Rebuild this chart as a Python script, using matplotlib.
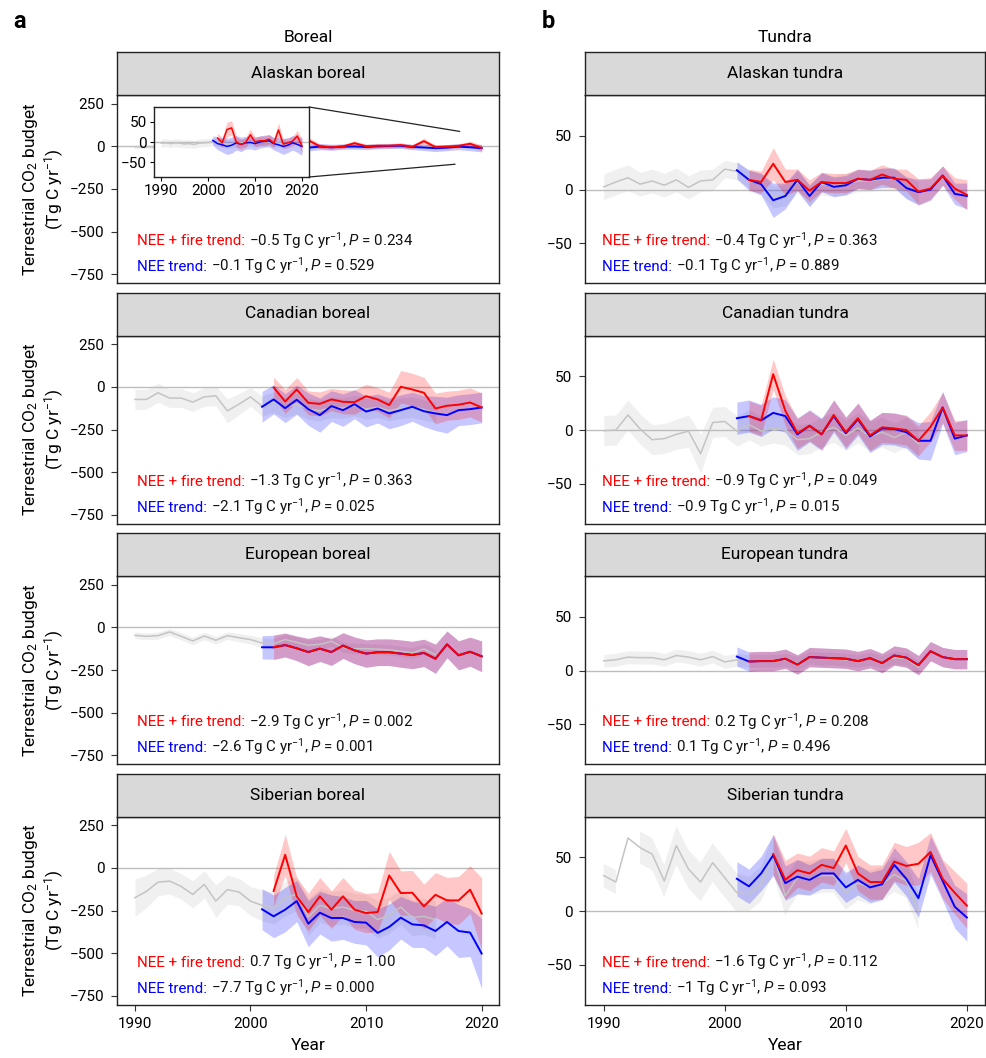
import numpy as np
import matplotlib
matplotlib.use("Agg")
import matplotlib.pyplot as plt
from matplotlib.patches import ConnectionPatch

plt.rcParams['font.family'] = ['Roboto', 'DejaVu Sans']
plt.rcParams['mathtext.fontset'] = 'custom'
plt.rcParams['mathtext.rm'] = 'Roboto'
plt.rcParams['mathtext.it'] = 'Roboto:italic'

# years
prior_years = np.arange(1990, 2017)
nee_years = np.arange(2001, 2021)
fire_years = np.arange(2002, 2021)
fire_years_sib_tundra = np.arange(2004, 2021)

# ---- Alaskan boreal
ak_boreal_prior = [-3, -2, -4, -2, -3, -5, -4, -6, -3, -2, -1, 1, 0, -2, -5, -4, -3, -2, -1, 0, -1, 0, 1, 0, -2, -3, -4]
ak_boreal_prior_err = [10] * 27
ak_boreal_nee = [4, -4, -7, -11, -8, -2, -6, -2, -1, -4, 0, 2, 3, -4, -7, -11, -8, -2, -6, -11]
ak_boreal_nee_err = [12, 15, 18, 20, 20, 18, 18, 16, 16, 16, 15, 15, 15, 16, 18, 20, 18, 18, 20, 22]
ak_boreal_fire = [10, -2, 31, 35, 0, -6, -1, 18, 0, 3, 3, 7, -3, 30, -5, -2, 2, 15, -10]
ak_boreal_fire_err = [12, 12, 18, 18, 14, 12, 12, 14, 12, 12, 12, 12, 12, 18, 12, 12, 12, 14, 18]

# ---- Canadian boreal
ca_boreal_prior = [-74, -74, -35, -66, -66, -90, -59, -53, -141, -102, -59, -113, -90, -120, -100, -130, -140,
                   -120, -125, -110, -130, -120, -140, -125, -120, -135, -150]
ca_boreal_prior_err = [60, 58, 55, 55, 55, 55, 55, 58, 70, 62, 55, 60, 60, 60, 60, 60, 60, 60, 60, 60, 60, 60,
                       60, 60, 60, 60, 60]
ca_boreal_nee = [-117, -74, -125, -76, -131, -166, -113, -137, -102, -145, -127, -156, -137, -117, -143, -156,
                 -166, -137, -131, -121]
ca_boreal_nee_err = [90, 85, 85, 85, 95, 100, 90, 95, 85, 90, 85, 90, 90, 85, 90, 100, 105, 90, 90, 90]
ca_boreal_fire = [-4, -86, -16, -94, -100, -74, -88, -90, -55, -74, -107, 0, -16, -35, -127, -111, -105, -92, -121]
ca_boreal_fire_err = [60, 70, 70, 70, 70, 65, 70, 70, 70, 70, 75, 95, 95, 90, 90, 85, 85, 85, 85]

# ---- European boreal
eu_boreal_prior = [-47, -53, -49, -27, -53, -80, -51, -76, -49, -61, -72, -92, -96, -72, -88, -105, -100, -82,
                   -118, -125, -125, -128, -132, -140, -150, -127, -160]
eu_boreal_prior_err = [20, 20, 20, 20, 22, 22, 22, 22, 22, 25, 25, 30, 30, 30, 30, 30, 30, 30, 30, 30, 30, 30,
                       30, 30, 30, 30, 30]
eu_boreal_nee = [-117, -117, -104, -123, -145, -125, -145, -107, -135, -154, -146, -146, -154, -162, -150, -184,
                 -100, -164, -143, -170]
eu_boreal_nee_err = [68, 70, 70, 72, 80, 75, 78, 75, 78, 80, 78, 78, 80, 80, 80, 85, 78, 85, 85, 90]
eu_boreal_fire = [-117, -104, -123, -145, -125, -145, -107, -135, -154, -146, -146, -154, -162, -150, -184, -100,
                  -164, -143, -170]
eu_boreal_fire_err = [72, 70, 72, 80, 75, 78, 75, 78, 80, 78, 78, 80, 80, 80, 85, 78, 85, 85, 90]

# ---- Siberian boreal
si_boreal_prior = [-175, -138, -84, -78, -109, -156, -97, -195, -128, -142, -195, -220, -235, -181, -152, -288,
                   -220, -239, -230, -249, -255, -303, -278, -230, -292, -284, -303]
si_boreal_prior_err = [110, 95, 80, 75, 75, 80, 80, 95, 85, 80, 85, 90, 95, 100, 100, 110, 100, 100, 100, 100,
                       100, 110, 105, 100, 105, 105, 110]
si_boreal_nee = [-243, -284, -245, -195, -327, -263, -294, -294, -317, -321, -381, -346, -292, -331, -337, -370,
                 -317, -370, -379, -502]
si_boreal_nee_err = [120, 125, 130, 120, 135, 125, 135, 125, 125, 130, 140, 135, 125, 135, 130, 145, 140, 155,
                     140, 205]
si_boreal_fire = [-136, 76, -167, -259, -167, -245, -167, -245, -265, -259, -45, -148, -146, -226, -158, -191,
                  -191, -128, -268]
si_boreal_fire_err = [90, 120, 110, 110, 110, 110, 110, 115, 115, 115, 140, 130, 130, 130, 130, 135, 140, 140, 210]

# ---- Alaskan tundra
ak_tundra_prior = [2.5, 7, 11, 5, 8, 4, 9, 2, 8, 9, 19, 17, 8, 5, -7, -5, 7, -5, 5, 3, 5, 8, 8, 10, 10, 2, -3]
ak_tundra_prior_err = [12, 12, 12, 11, 11, 11, 11, 11, 10, 10, 8, 8, 10, 10, 10, 10, 10, 10, 10, 10, 10, 10, 10,
                       10, 10, 10, 10]
ak_tundra_nee = [18, 9, 5, -10, -6, 9, -6, 7, 2.5, 4, 10, 9, 11, 11, 1.5, -2.5, 0, 13, -4, -6]
ak_tundra_nee_err = [8, 9, 10, 16, 12, 10, 10, 9, 9, 9, 9, 9, 9, 9, 10, 12, 10, 9, 10, 12]
ak_tundra_fire = [9, 7, 24, 7, 9, -1, 7, 6, 6, 10, 9, 14, 10, 9, -2, 1, 13, 1, -5]
ak_tundra_fire_err = [10, 10, 15, 12, 10, 10, 9, 9, 9, 9, 9, 9, 9, 10, 12, 10, 9, 10, 14]

# ---- Canadian tundra
ca_tundra_prior = [-0.6, 0, 14, 1, -9, -8, -4, -1, -22, 7, 8, -1, 5, -1, 2, 0, -9, -8, -2, 2.5, -5, 2, -6, -2,
                   -7, -2, -13]
ca_tundra_prior_err = [14, 14, 14, 14, 14, 14, 14, 15, 18, 14, 14, 14, 14, 14, 14, 14, 14, 14, 14, 14, 14, 14,
                       14, 14, 14, 14, 14]
ca_tundra_nee = [11, 13, 9, 16, 13, -4, 4, -4, 13, -3, 10, -6, 1.5, 1, -2, -10, -10, 21, -8, -5]
ca_tundra_nee_err = [15, 15, 15, 15, 15, 15, 15, 15, 15, 15, 15, 15, 15, 15, 15, 17, 18, 15, 15, 15]
ca_tundra_fire = [13, 9, 52, 18, -3, 4, -4, 14, -2, 11, -5, 2.5, 1.5, 0, -10, 3, 21, -5, -5]
ca_tundra_fire_err = [14] * 19

# ---- European tundra
eu_tundra_prior = [9, 10, 12.5, 12, 12, 10, 14, 12.5, 10, 13, 8, 10, 9, 9, 9, 10, 7, 12, 11, 11, 10, 9, 11, 8,
                   12, 11, 3]
eu_tundra_prior_err = [6] * 27
eu_tundra_nee = [13, 8.4, 8.8, 8.8, 11, 5.6, 12.5, 12, 11.5, 11, 8.8, 11.5, 7, 14, 12, 5, 18, 12.5, 10.6, 10.6]
eu_tundra_nee_err = [9] * 20
eu_tundra_fire = [8.4, 8.8, 8.8, 11, 5.6, 12.5, 12, 11.5, 11, 8.8, 11.5, 7, 14, 12, 5, 18, 12.5, 10.6, 10.6]
eu_tundra_fire_err = [9] * 19

# ---- Siberian tundra
si_tundra_prior = [33, 27, 68, 59, 53, 28, 61, 39, 27, 45, 31, 17, 16, 25, 53, 14, 31, 30, 33, 33, 17, 26, 22,
                   25, 34, 28, 0]
si_tundra_prior_err = [11, 11, np.nan, 15, 15, 15, 18, 18, 18, 18, 18, 18, 16, 16, 18, 18, 16, 16, 16, 16, 16, 16,
                       16, 16, 16, 16, 17]
si_tundra_nee = [30, 23, 35, 52, 26, 32, 29, 35, 35, 22, 29, 22, 25, 43, 30, 12, 52, 28, 4, -6]
si_tundra_nee_err = [16, 16, 16, 19, 16, 16, 14, 14, 14, 14, 14, 14, 14, 16, 16, 18, 18, 18, 20, 22]
si_tundra_fire = [53, 29, 38, 35, 43, 40, 61, 35, 27, 27, 46, 42, 44, 55, 30, 17, 5]
si_tundra_fire_err = [19, 18, 16, 16, 16, 16, 16, 16, 16, 16, 18, 18, 20, 18, 18, 20, 21]

# trend texts: (NEE + fire trend, P), (NEE trend, P)
trend_text = {
    'Alaskan boreal': (('\u22120.5', '0.234'), ('\u22120.1', '0.529')),
    'Canadian boreal': (('\u22121.3', '0.363'), ('\u22122.1', '0.025')),
    'European boreal': (('\u22122.9', '0.002'), ('\u22122.6', '0.001')),
    'Siberian boreal': (('0.7', '1.00'), ('\u22127.7', '0.000')),
    'Alaskan tundra': (('\u22120.4', '0.363'), ('\u22120.1', '0.889')),
    'Canadian tundra': (('\u22120.9', '0.049'), ('\u22120.9', '0.015')),
    'European tundra': (('0.2', '0.208'), ('0.1', '0.496')),
    'Siberian tundra': (('\u22121.6', '0.112'), ('\u22121', '0.093')),
}

panels = [
    ('Alaskan boreal', ak_boreal_prior, ak_boreal_prior_err, ak_boreal_nee, ak_boreal_nee_err,
     fire_years, ak_boreal_fire, ak_boreal_fire_err),
    ('Canadian boreal', ca_boreal_prior, ca_boreal_prior_err, ca_boreal_nee, ca_boreal_nee_err,
     fire_years, ca_boreal_fire, ca_boreal_fire_err),
    ('European boreal', eu_boreal_prior, eu_boreal_prior_err, eu_boreal_nee, eu_boreal_nee_err,
     fire_years, eu_boreal_fire, eu_boreal_fire_err),
    ('Siberian boreal', si_boreal_prior, si_boreal_prior_err, si_boreal_nee, si_boreal_nee_err,
     fire_years, si_boreal_fire, si_boreal_fire_err),
    ('Alaskan tundra', ak_tundra_prior, ak_tundra_prior_err, ak_tundra_nee, ak_tundra_nee_err,
     fire_years, ak_tundra_fire, ak_tundra_fire_err),
    ('Canadian tundra', ca_tundra_prior, ca_tundra_prior_err, ca_tundra_nee, ca_tundra_nee_err,
     fire_years, ca_tundra_fire, ca_tundra_fire_err),
    ('European tundra', eu_tundra_prior, eu_tundra_prior_err, eu_tundra_nee, eu_tundra_nee_err,
     fire_years, eu_tundra_fire, eu_tundra_fire_err),
    ('Siberian tundra', si_tundra_prior, si_tundra_prior_err, si_tundra_nee, si_tundra_nee_err,
     fire_years_sib_tundra, si_tundra_fire, si_tundra_fire_err),
]

W, H = 986, 1058
fig = plt.figure(figsize=(W / 100, H / 100), dpi=100)


def frac(x0, y0, x1, y1):
    # pixel box -> figure fraction
    return [x0 / W, 1 - y1 / H, (x1 - x0) / W, (y1 - y0) / H]


def draw_series(ax, prior, prior_err, nee, nee_err, fyears, fire, fire_err, lw=1.4):
    prior, prior_err = np.array(prior, float), np.array(prior_err, float)
    nee, nee_err = np.array(nee, float), np.array(nee_err, float)
    fire, fire_err = np.array(fire, float), np.array(fire_err, float)
    ax.axhline(0, color='#bdbdbd', lw=1, zorder=0)
    ax.fill_between(prior_years, prior - prior_err, prior + prior_err, color='#bebebe', alpha=0.22, lw=0)
    ax.plot(prior_years, prior, color='#c4c4c4', lw=1.1)
    ax.fill_between(nee_years, nee - nee_err, nee + nee_err, color='blue', alpha=0.22, lw=0)
    ax.fill_between(fyears, fire - fire_err, fire + fire_err, color='red', alpha=0.22, lw=0)
    ax.plot(nee_years, nee, color='blue', lw=lw)
    ax.plot(fyears, fire, color='red', lw=lw)


col_x = [(117, 499), (585, 985)]
row_top = [95, 335.5, 576, 816.5]
plot_h = 188
head_h = 43
tick_fs = 11
txt_fs = 10.9

for i, (name, prior, prior_err, nee, nee_err, fyears, fire, fire_err) in enumerate(panels):
    col, row = divmod(i, 4)
    x0, x1 = col_x[col]
    y0 = row_top[row]
    ax = fig.add_axes(frac(x0, y0, x1, y0 + plot_h))
    draw_series(ax, prior, prior_err, nee, nee_err, fyears, fire, fire_err)
    ax.set_xlim(1988.45, 2021.5)
    if col == 0:
        ax.set_ylim(-800, 300)
        ax.set_yticks([250, 0, -250, -500, -750])
        ax.set_ylabel('Terrestrial CO$_2$ budget\n(Tg C yr$^{-1}$)', fontsize=12.5, labelpad=3, linespacing=1.1)
    else:
        ax.set_ylim(-87, 88)
        ax.set_yticks([50, 0, -50])
    ax.set_xticks([1990, 2000, 2010, 2020])
    ax.tick_params(labelsize=tick_fs, length=4.5, width=0.8, color='#333333', pad=4.5)
    if row < 3:
        ax.tick_params(axis='x', bottom=False, labelbottom=False)
    else:
        ax.set_xlabel('Year', fontsize=12.5, labelpad=5)
    for s in ax.spines.values():
        s.set_linewidth(1.0)
        s.set_color('#222222')

    # header strip
    hax = fig.add_axes(frac(x0, y0 - head_h, x1, y0))
    hax.set_facecolor('#d9d9d9')
    hax.set_xticks([])
    hax.set_yticks([])
    for s in hax.spines.values():
        s.set_linewidth(1.0)
        s.set_color('#222222')
    hax.text(0.5, 0.5, name, ha='center', va='center', fontsize=12.5, transform=hax.transAxes)

    # trend text
    (fv, fp), (nv, np_) = trend_text[name]
    tx = 0.052 if col == 0 else 0.042
    for yy, lab, col_, v, p in [(0.20, 'NEE + fire trend: ', 'red', fv, fp),
                                (0.063, 'NEE trend: ', 'blue', nv, np_)]:
        t = ax.text(tx, yy, lab, color=col_, fontsize=txt_fs, transform=ax.transAxes, va='baseline')
        ax.annotate(v + ' Tg C yr$^{\u22121}$, $P$ = ' + p, xy=(1, yy), xycoords=(t, 'axes fraction'),
                    fontsize=txt_fs, va='baseline', ha='left', color='#111111')

    if name == 'Alaskan boreal':
        ax_in = fig.add_axes(frac(154, 107, 309, 177))
        draw_series(ax_in, prior, prior_err, nee, nee_err, fyears, fire, fire_err, lw=1.1)
        ax_in.set_xlim(1988.45, 2021.5)
        ax_in.set_ylim(-87, 87)
        ax_in.set_yticks([50, 0, -50])
        ax_in.set_xticks([1990, 2000, 2010, 2020])
        ax_in.tick_params(labelsize=tick_fs, length=3, width=0.8, pad=2)
        ax_in.set_facecolor('white')
        for s in ax_in.spines.values():
            s.set_linewidth(1.0)
            s.set_color('#222222')
        for xa, xb in [((1, 1), (2018.1, 87)), ((1, 0), (2017.7, -105))]:
            con = ConnectionPatch(xyA=xa, coordsA=ax_in.transAxes, xyB=xb, coordsB=ax.transData,
                                  color='#222222', lw=0.9)
            fig.add_artist(con)

fig.text(13 / W, 1 - 21 / H, 'a', fontsize=17, fontweight='bold', va='center')
fig.text(542 / W, 1 - 21 / H, 'b', fontsize=17, fontweight='bold', va='center')
fig.text(308 / W, 1 - 38 / H, 'Boreal', fontsize=12.5, ha='center', va='center')
fig.text(785 / W, 1 - 38 / H, 'Tundra', fontsize=12.5, ha='center', va='center')

fig.savefig('out.png', dpi=100, facecolor='white')
